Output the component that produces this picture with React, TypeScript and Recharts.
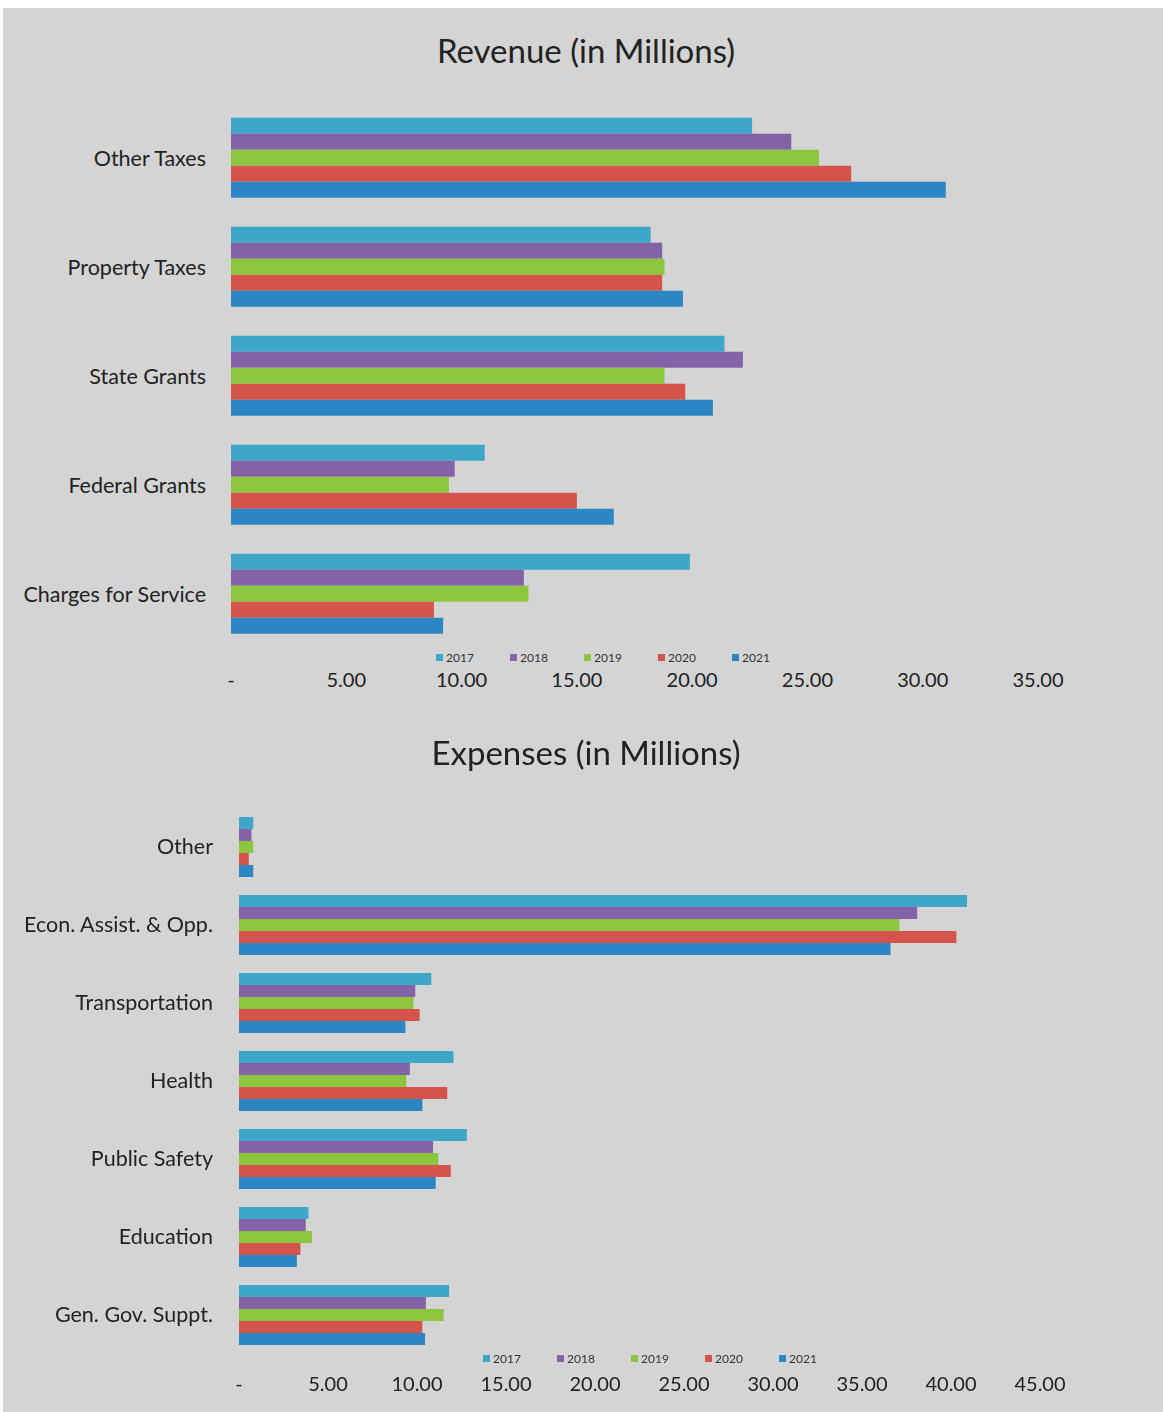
import { BarChart, Bar, XAxis, YAxis, Legend } from 'recharts';

const years = ['2017', '2018', '2019', '2020', '2021'];
const yearColors = ['#3ea6c9', '#8462a8', '#8cc63f', '#d4534a', '#2b86c3'];

const revenueCategories = ['Other Taxes', 'Property Taxes', 'State Grants', 'Federal Grants', 'Charges for Service'];
const revenue2017 = [22.6, 18.2, 21.4, 11.0, 19.9];
const revenue2018 = [24.3, 18.7, 22.2, 9.7, 12.7];
const revenue2019 = [25.5, 18.8, 18.8, 9.45, 12.9];
const revenue2020 = [26.9, 18.7, 19.7, 15.0, 8.8];
const revenue2021 = [31.0, 19.6, 20.9, 16.6, 9.2];
const revenueTicks = [0, 5, 10, 15, 20, 25, 30, 35];

const expenseCategories = [
  'Other',
  'Econ. Assist. & Opp.',
  'Transportation',
  'Health',
  'Public Safety',
  'Education',
  'Gen. Gov. Suppt.',
];
const expense2017 = [0.8, 40.9, 10.8, 12.05, 12.8, 3.9, 11.8];
const expense2018 = [0.7, 38.1, 9.9, 9.6, 10.9, 3.75, 10.5];
const expense2019 = [0.8, 37.1, 9.8, 9.4, 11.2, 4.1, 11.5];
const expense2020 = [0.55, 40.3, 10.15, 11.7, 11.9, 3.45, 10.3];
const expense2021 = [0.8, 36.6, 9.35, 10.3, 11.05, 3.25, 10.45];
const expenseTicks = [0, 5, 10, 15, 20, 25, 30, 35, 40, 45];

const FONT = 'Lato, Carlito, Calibri, sans-serif';
const TEXT = '#222';

const revenueRows = revenueCategories.map((name, i) => ({
  name,
  y2017: revenue2017[i],
  y2018: revenue2018[i],
  y2019: revenue2019[i],
  y2020: revenue2020[i],
  y2021: revenue2021[i],
}));

const expenseRows = expenseCategories.map((name, i) => ({
  name,
  y2017: expense2017[i],
  y2018: expense2018[i],
  y2019: expense2019[i],
  y2020: expense2020[i],
  y2021: expense2021[i],
}));

// excel accounting style: zero shows as a dash
const fmt = (v: number) => (v === 0 ? '-' : v.toFixed(2));

function YearLegend({ payload }: any) {
  return (
    <div style={{ display: 'flex', fontFamily: FONT, fontSize: 12, color: '#333' }}>
      {(payload || []).map((p: any) => (
        <div key={p.value} style={{ width: 74, display: 'flex', alignItems: 'center' }}>
          <span style={{ width: 7, height: 7, background: p.color, marginRight: 3, display: 'inline-block' }} />
          {p.value}
        </div>
      ))}
    </div>
  );
}

function Title({ text, top }: { text: string; top: number }) {
  return (
    <div
      style={{
        position: 'absolute',
        top,
        left: 0,
        width: 1166,
        textAlign: 'center',
        fontFamily: FONT,
        fontSize: 33,
        lineHeight: '40px',
        color: TEXT,
      }}
    >
      {text}
    </div>
  );
}

function YearBars() {
  return years.map((y, i) => (
    <Bar key={y} dataKey={'y' + y} name={y} fill={yearColors[i]} isAnimationActive={false} />
  ));
}

export default function App() {
  return (
    <div style={{ position: 'fixed', top: 8, left: 3, width: 1160, height: 1404, background: '#d3d4d3' }}>
      <Title text="Revenue (in Millions)" top={22} />
      <div style={{ position: 'absolute', top: 0, left: 0 }}>
        <BarChart
          width={1160}
          height={700}
          data={revenueRows}
          layout="vertical"
          margin={{ top: 96, right: 125, bottom: 9, left: 0 }}
          barGap={0}
          barCategoryGap="12.5%"
        >
          <XAxis
            type="number"
            domain={[0, 35]}
            ticks={revenueTicks}
            tickFormatter={fmt}
            axisLine={false}
            tickLine={false}
            tickSize={0}
            tickMargin={24}
            height={50}
            tick={{ fill: TEXT, fontSize: 20, fontFamily: FONT }}
          />
          <YAxis
            type="category"
            dataKey="name"
            width={228}
            axisLine={false}
            tickLine={false}
            tickSize={0}
            tickMargin={25}
            tick={{ fill: TEXT, fontSize: 21.5, fontFamily: FONT }}
          />
          <Legend
            layout="horizontal"
            align="center"
            verticalAlign="middle"
            content={YearLegend}
            wrapperStyle={{ top: 642, left: 433, width: 400, height: 16 }}
          />
          {YearBars()}
        </BarChart>
      </div>

      <Title text="Expenses (in Millions)" top={724} />
      <div style={{ position: 'absolute', top: 700, left: 0 }}>
        <BarChart
          width={1160}
          height={700}
          data={expenseRows}
          layout="vertical"
          margin={{ top: 99, right: 123, bottom: 10, left: 0 }}
          barGap={0}
          barCategoryGap="12.8%"
        >
          <XAxis
            type="number"
            domain={[0, 45]}
            ticks={expenseTicks}
            tickFormatter={fmt}
            axisLine={false}
            tickLine={false}
            tickSize={0}
            tickMargin={24}
            height={45}
            tick={{ fill: TEXT, fontSize: 20, fontFamily: FONT }}
          />
          <YAxis
            type="category"
            dataKey="name"
            width={236}
            axisLine={false}
            tickLine={false}
            tickSize={0}
            tickMargin={26}
            tick={{ fill: TEXT, fontSize: 21.5, fontFamily: FONT }}
          />
          <Legend
            layout="horizontal"
            align="center"
            verticalAlign="middle"
            content={YearLegend}
            wrapperStyle={{ top: 643, left: 480, width: 400, height: 16 }}
          />
          {YearBars()}
        </BarChart>
      </div>
    </div>
  );
}
